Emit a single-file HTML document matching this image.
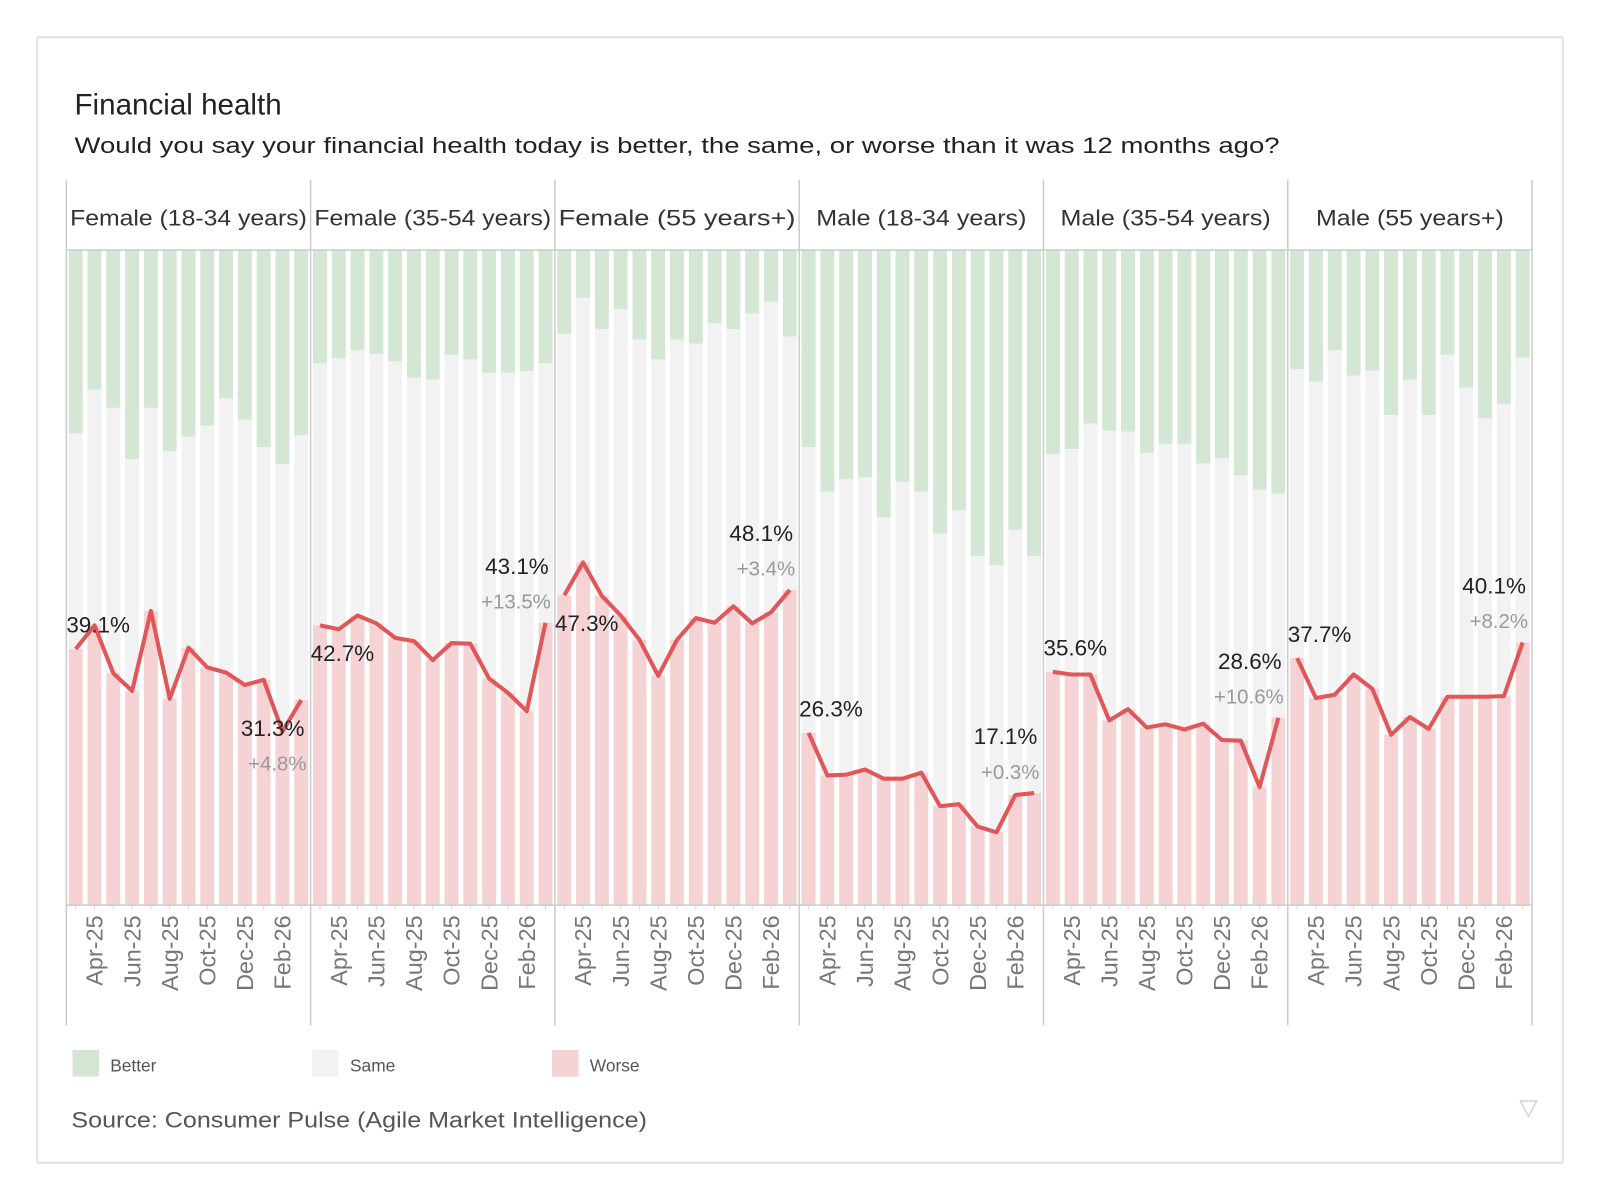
<!DOCTYPE html>
<html><head><meta charset="utf-8"><style>
html,body{margin:0;padding:0;background:#fff}
svg{display:block;font-family:"Liberation Sans",sans-serif}
</style></head><body>
<svg id="chart" width="1600" height="1200" viewBox="0 0 1568 1176" xmlns="http://www.w3.org/2000/svg">
<rect x="36.5" y="36.5" width="1495" height="1103" fill="#fff" stroke="#e3e3e3" stroke-width="2"/>
<text x="73" y="112" font-size="29" fill="#222">Financial health</text>
<text x="73" y="150" font-size="22" fill="#222" textLength="1181" lengthAdjust="spacingAndGlyphs">Would you say your financial health today is better, the same, or worse than it was 12 months ago?</text>
<g id="panels"></g>
<g>
<g><rect x="71" y="1029" width="26" height="26" fill="#d4e6d4"/><text x="108" y="1050" font-size="17" fill="#555">Better</text></g>
<g><rect x="306" y="1029" width="26" height="26" fill="#f2f2f2"/><text x="343" y="1050" font-size="17" fill="#555">Same</text></g>
<g><rect x="541" y="1029" width="26" height="26" fill="#f5d3d5"/><text x="578" y="1050" font-size="17" fill="#555">Worse</text></g>
</g>
<text x="70" y="1105" font-size="22" fill="#555" textLength="564" lengthAdjust="spacingAndGlyphs">Source: Consumer Pulse (Agile Market Intelligence)</text>
<path d="M1490 1079 L1506 1079 L1498 1094 Z" fill="none" stroke="#ccc" stroke-width="1.2"/>
</svg>
<script>
const panelNames = ["Female (18-34 years)","Female (35-54 years)","Female (55 years+)","Male (18-34 years)","Male (35-54 years)","Male (55 years+)"];
const months = ["Mar-25","Apr-25","May-25","Jun-25","Jul-25","Aug-25","Sep-25","Oct-25","Nov-25","Dec-25","Jan-26","Feb-26","Mar-26"];
const tickLabels = ["","Apr-25","","Jun-25","","Aug-25","","Oct-25","","Dec-25","","Feb-26",""];
const betterF1834 = [28.0,21.3,24.1,31.9,24.1,30.7,28.5,26.8,22.6,25.9,30.1,32.7,28.3];
const worseF1834  = [39.1,42.7,35.4,32.7,44.9,31.5,39.3,36.3,35.5,33.6,34.4,26.5,31.3];
const betterF3554 = [17.3,16.5,15.3,15.9,17.0,19.5,19.8,16.0,16.7,18.8,18.7,18.5,17.3];
const worseF3554  = [42.7,42.1,44.2,43.0,40.8,40.3,37.4,40.0,39.9,34.6,32.4,29.6,43.1];
const betterF55   = [12.8,7.3,12.1,9.0,13.7,16.7,13.7,14.3,11.2,12.1,9.7,7.9,13.2];
const worseF55    = [47.3,52.3,47.2,44.2,40.5,35.0,40.5,43.8,43.1,45.6,43.0,44.7,48.1];
const betterM1834 = [30.1,36.9,35.0,34.7,40.8,35.4,36.9,43.3,39.7,46.7,48.1,42.7,46.7];
const worseM1834  = [26.3,19.8,19.9,20.7,19.3,19.3,20.2,15.1,15.4,12.0,11.1,16.8,17.1];
const betterM3554 = [31.2,30.4,26.5,27.6,27.7,31.0,29.6,29.6,32.6,31.8,34.4,36.6,37.2];
const worseM3554  = [35.6,35.2,35.2,28.2,29.9,27.1,27.6,26.8,27.7,25.2,25.1,18.0,28.6];
const betterM55   = [18.2,20.1,15.3,19.2,18.4,25.2,19.8,25.2,16.0,21.0,25.7,23.5,16.4];
const worseM55    = [37.7,31.6,32.1,35.2,33.0,26.0,28.7,26.9,31.8,31.8,31.8,31.9,40.1];
const betterSeries = [betterF1834,betterF3554,betterF55,betterM1834,betterM3554,betterM55];
const worseSeries  = [worseF1834,worseF3554,worseF55,worseM1834,worseM3554,worseM55];
const firstLabelBelow = [false,true,true,false,false,false];
const lastLabelBelow  = [true,false,false,false,false,false];

const NS="http://www.w3.org/2000/svg";
const g=document.getElementById('panels');
const X0=65, PW=239.4, TOP=176, HB=245, BASE=887, AXB=1005, PITCH=PW/13, BW=13.7;
const y=v=>BASE-(BASE-HB)*v/100;
const xc=(p,i)=>X0+p*PW+PITCH*(i+0.5);
function mk(tag,attrs,parent){const e=document.createElementNS(NS,tag);for(const k in attrs)e.setAttribute(k,attrs[k]);(parent||g).appendChild(e);return e;}
const fmt=v=>v.toFixed(1)+'%';
for(let p=0;p<6;p++){
  const pg=mk('g',{});
  
  
  const px=X0+p*PW;
  const ht=mk('text',{x:px+PW/2,y:221,'font-size':22,fill:'#333','text-anchor':'middle',textLength:(p<3?232:[206,206,184][p-3]),lengthAdjust:'spacingAndGlyphs'},pg);
  ht.textContent=panelNames[p];
  
  
  const b=betterSeries[p], w=worseSeries[p];
  for(let i=0;i<13;i++){
    const bx=xc(p,i)-BW/2;
    const rb=mk('rect',{x:bx,y:HB,width:BW,height:y(100-b[i])-HB,fill:'#d4e6d4'},pg);
    
    
    const rs=mk('rect',{x:bx,y:y(100-b[i]),width:BW,height:y(w[i])-y(100-b[i]),fill:'#f2f2f2'},pg);
    
    
    const rw=mk('rect',{x:bx,y:y(w[i]),width:BW,height:BASE-y(w[i]),fill:'#f5d3d5'},pg);
    
    
    const tk=mk('line',{x1:xc(p,i),x2:xc(p,i),y1:BASE,y2:BASE+5,stroke:'#ddd'},pg);
    
    
    if(tickLabels[i]){
      const tl=mk('text',{x:0,y:0,'font-size':23,fill:'#777','text-anchor':'end',transform:`translate(${xc(p,i)+8},897) rotate(-90)`},pg);
      tl.textContent=tickLabels[i];
      
      
    }
  }
  const d=w.map((v,i)=>(i?'L':'M')+xc(p,i).toFixed(1)+' '+y(v).toFixed(1)).join(' ');
  const ln=mk('path',{d:d,fill:'none',stroke:'#e15759','stroke-width':4,'stroke-linejoin':'round'},pg);
  
  
  const fy=y(w[0])+(firstLabelBelow[p]?27:-24);
  const fl=mk('text',{x:px,y:fy+8,'font-size':22,fill:'#222'},pg);
  fl.textContent=fmt(w[0]);
  
  
  const ly=y(w[12])+(lastLabelBelow[p]?27:-56);
  const ll=mk('text',{x:px+PW-6,y:ly+8,'font-size':22,fill:'#222','text-anchor':'end'},pg);
  ll.textContent=fmt(w[12]);
  
  
  const delta=w[12]-w[11];
  const dl=mk('text',{x:px+PW-4,y:ly+42,'font-size':20,fill:'#999','text-anchor':'end'},pg);
  dl.textContent=(delta>=0?'+':'')+delta.toFixed(1)+'%';
  
  
}
for(let p=0;p<=6;p++){
  const vl=mk('line',{x1:X0+p*PW,x2:X0+p*PW,y1:TOP,y2:AXB,stroke:'#ccc','stroke-width':1.5});
  
  
}
const hl=mk('line',{x1:X0,x2:X0+6*PW,y1:HB,y2:HB,stroke:'#ccc','stroke-width':1.5});


const al=mk('line',{x1:X0,x2:X0+6*PW,y1:BASE,y2:BASE,stroke:'#ccc','stroke-width':1.5});


</script>
</body></html>
